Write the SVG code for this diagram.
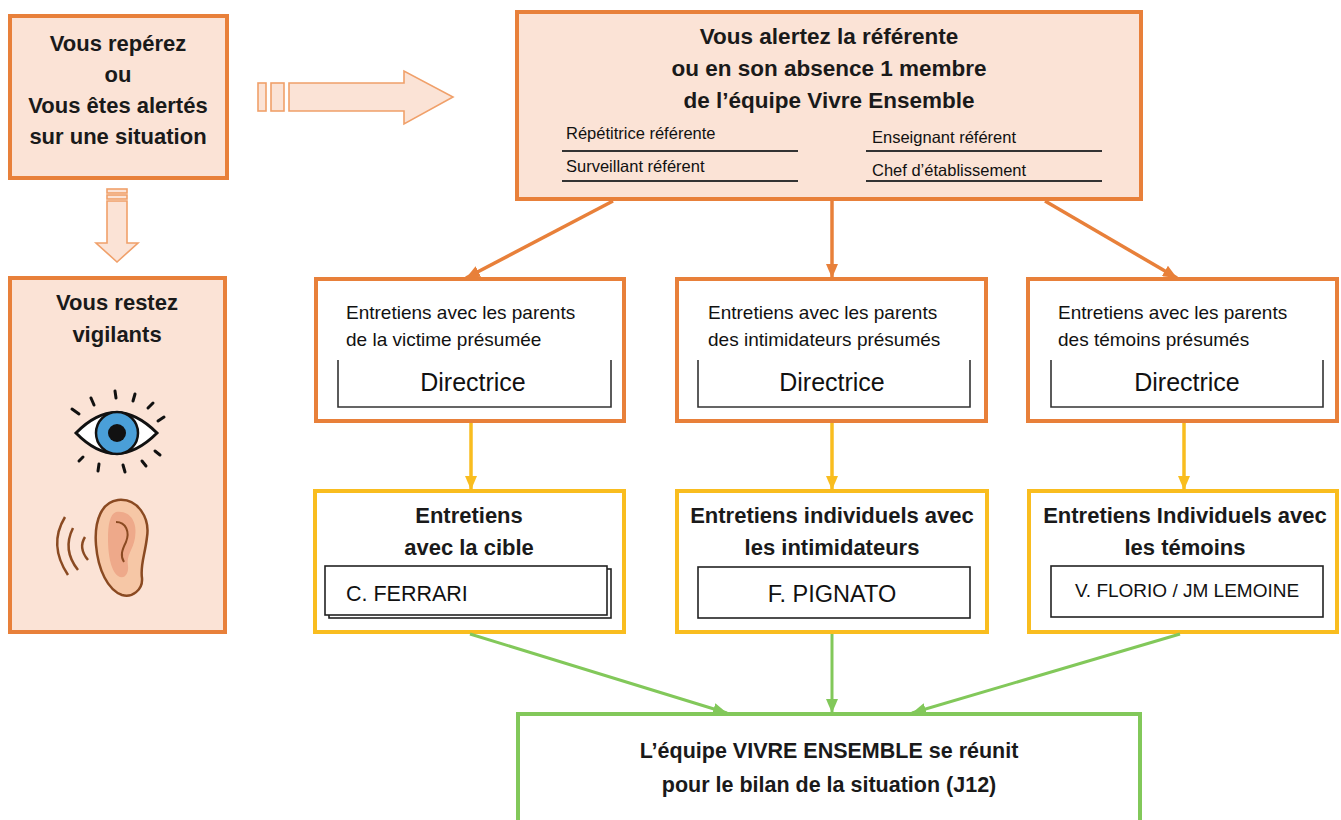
<svg xmlns="http://www.w3.org/2000/svg" width="1341" height="820" viewBox="0 0 1341 820">
<style>
.bg{fill:#ffffff}
.peach{fill:#FBE3D6;stroke:#E8803A;stroke-width:4}
.obox{fill:#ffffff;stroke:#E8803A;stroke-width:4}
.ybox{fill:#ffffff;stroke:#F9BD1F;stroke-width:4}
.gbox{fill:#ffffff;stroke:#82C85A;stroke-width:4}
.inner{fill:none;stroke:#333333;stroke-width:1.6}
.innerw{fill:#ffffff;stroke:#222222;stroke-width:1.6}
.bold{font-family:"Liberation Sans",Arial,sans-serif;font-weight:bold;fill:#1a1a1a;text-anchor:middle}
.reg{font-family:"Liberation Sans",Arial,sans-serif;fill:#111111}
.blk{fill:#FBE3D6;stroke:#F0A06A;stroke-width:1.6}
.uline{stroke:#333333;stroke-width:2}
.oc{stroke:#E8803A;stroke-width:3.5;fill:none}
.yc{stroke:#F9BD1F;stroke-width:3.5;fill:none}
.gc{stroke:#82C85A;stroke-width:3;fill:none}
</style>
<defs>
<marker id="ao" markerUnits="userSpaceOnUse" markerWidth="14" markerHeight="12" refX="14" refY="6" orient="auto"><path d="M0,0 L14,6 L0,12 z" fill="#E8803A"/></marker>
<marker id="ay" markerUnits="userSpaceOnUse" markerWidth="14" markerHeight="12" refX="14" refY="6" orient="auto"><path d="M0,0 L14,6 L0,12 z" fill="#F9BD1F"/></marker>
<marker id="ag" markerUnits="userSpaceOnUse" markerWidth="14" markerHeight="12" refX="14" refY="6" orient="auto"><path d="M0,0 L14,6 L0,12 z" fill="#82C85A"/></marker>
</defs>
<rect class="bg" x="0" y="0" width="1341" height="820"/>

<g id="node-repérez">
<rect class="peach" x="10" y="16" width="217" height="162"/>
<text class="bold" font-size="22" x="118" y="51">Vous repérez</text>
<text class="bold" font-size="22" x="118" y="82">ou</text>
<text class="bold" font-size="22" x="118" y="113">Vous êtes alertés</text>
<text class="bold" font-size="22" x="118" y="144">sur une situation</text>
</g>

<g id="arrow-right-block">
<rect class="blk" x="258" y="83" width="8" height="28"/>
<rect class="blk" x="271" y="83" width="13" height="28"/>
<polygon class="blk" points="289,83 404,83 404,71 453,97 404,124 404,111 289,111"/>
</g>

<g id="arrow-down-block">
<rect class="blk" x="107" y="189" width="20" height="4"/>
<rect class="blk" x="107" y="195" width="20" height="4"/>
<polygon class="blk" points="107,201 127,201 127,243 138,243 117,262 96,243 107,243"/>
</g>

<g id="node-vigilants">
<rect class="peach" x="10" y="278" width="215" height="354"/>
<text class="bold" font-size="22" x="117" y="310">Vous restez</text>
<text class="bold" font-size="22" x="117" y="342">vigilants</text>
<g id="eye">
<path d="M76,433 Q116,392 157,433 Q116,474 76,433 Z" fill="#ffffff" stroke="#111111" stroke-width="3"/>
<circle cx="117" cy="433" r="21" fill="#4A9FD8" stroke="#111111" stroke-width="2.5"/>
<circle cx="117" cy="433" r="9" fill="#111111"/>
<g stroke="#111111" stroke-width="3" stroke-linecap="round">
<line x1="72" y1="409" x2="79" y2="414"/>
<line x1="91" y1="398" x2="94" y2="405"/>
<line x1="115" y1="391" x2="116" y2="398"/>
<line x1="135" y1="394" x2="133" y2="401"/>
<line x1="153" y1="403" x2="148" y2="408"/>
<line x1="164" y1="417" x2="158" y2="421"/>
<line x1="79" y1="461" x2="83" y2="457"/>
<line x1="99" y1="464" x2="98" y2="471"/>
<line x1="123" y1="465" x2="125" y2="472"/>
<line x1="142" y1="461" x2="146" y2="466"/>
<line x1="155" y1="451" x2="160" y2="455"/>
</g>
</g>
<g id="ear">
<path d="M65,517 Q48,545 68,575" fill="none" stroke="#8A4A22" stroke-width="2.5"/>
<path d="M73,528 Q62,550 78,570" fill="none" stroke="#8A4A22" stroke-width="2.5"/>
<path d="M85,537 Q78,548 88,560" fill="none" stroke="#8A4A22" stroke-width="2.5"/>
<path d="M118,500 C138,498 150,518 147,537 C145,555 140,565 142,578 C143,590 132,598 122,595 C108,590 98,570 96,545 C94,520 102,502 118,500 Z" fill="#F6C7A6" stroke="#8A4A22" stroke-width="2.5"/>
<path d="M116,512 C130,510 138,522 135,538 C133,550 126,555 128,566 C129,574 124,580 118,576 C110,570 108,552 108,538 C108,525 110,514 116,512 Z" fill="#EEA98A" stroke="none"/>
<path d="M116,522 C126,522 130,532 126,542 C122,550 120,556 124,562" fill="none" stroke="#8A4A22" stroke-width="2"/>
</g>
</g>

<g id="node-alertez">
<rect class="peach" x="517" y="12" width="624" height="187"/>
<text class="bold" font-size="22.5" x="829" y="44">Vous alertez la référente</text>
<text class="bold" font-size="22.5" x="829" y="76">ou en son absence 1 membre</text>
<text class="bold" font-size="22.5" x="829" y="108">de l’équipe Vivre Ensemble</text>
<text class="reg" font-size="16.5" x="566" y="139">Répétitrice référente</text>
<line class="uline" x1="562" y1="151" x2="798" y2="151"/>
<text class="reg" font-size="16.5" x="566" y="172">Surveillant référent</text>
<line class="uline" x1="562" y1="181" x2="798" y2="181"/>
<text class="reg" font-size="16.5" x="872" y="143">Enseignant référent</text>
<line class="uline" x1="866" y1="151" x2="1102" y2="151"/>
<text class="reg" font-size="16.5" x="872" y="176">Chef d’établissement</text>
<line class="uline" x1="866" y1="181" x2="1102" y2="181"/>
</g>

<g id="node-parents-victime">
<rect class="obox" x="316" y="279" width="308" height="142"/>
<text class="reg" font-size="19" x="346" y="319">Entretiens avec les parents</text>
<text class="reg" font-size="19" x="346" y="346">de la victime présumée</text>
<path class="inner" d="M338,360 V407 H611 V360"/>
<text class="reg" font-size="25" x="473" y="391" text-anchor="middle">Directrice</text>
</g>

<g id="node-parents-intimidateurs">
<rect class="obox" x="677" y="279" width="309" height="142"/>
<text class="reg" font-size="19" x="708" y="319">Entretiens avec les parents</text>
<text class="reg" font-size="19" x="708" y="346">des intimidateurs présumés</text>
<path class="inner" d="M698,360 V407 H970 V360"/>
<text class="reg" font-size="25" x="832" y="391" text-anchor="middle">Directrice</text>
</g>

<g id="node-parents-temoins">
<rect class="obox" x="1028" y="279" width="309" height="142"/>
<text class="reg" font-size="19" x="1058" y="319">Entretiens avec les parents</text>
<text class="reg" font-size="19" x="1058" y="346">des témoins présumés</text>
<path class="inner" d="M1051,360 V407 H1323 V360"/>
<text class="reg" font-size="25" x="1187" y="391" text-anchor="middle">Directrice</text>
</g>

<g id="node-cible">
<rect class="ybox" x="315" y="491" width="309" height="141"/>
<text class="bold" font-size="22" x="469" y="523">Entretiens</text>
<text class="bold" font-size="22" x="469" y="555">avec la cible</text>
<rect class="innerw" x="329" y="569" width="282" height="49"/>
<rect class="innerw" x="325" y="566" width="282" height="49"/>
<text class="reg" font-size="21.5" x="346" y="601">C. FERRARI</text>
</g>

<g id="node-intimidateurs">
<rect class="ybox" x="677" y="491" width="310" height="141"/>
<text class="bold" font-size="22" x="832" y="523">Entretiens individuels avec</text>
<text class="bold" font-size="22" x="832" y="555">les intimidateurs</text>
<rect class="innerw" x="698" y="567" width="272" height="51"/>
<text class="reg" font-size="23.5" x="832" y="602" text-anchor="middle">F. PIGNATO</text>
</g>

<g id="node-temoins">
<rect class="ybox" x="1029" y="491" width="308" height="141"/>
<text class="bold" font-size="22" x="1185" y="523">Entretiens Individuels avec</text>
<text class="bold" font-size="22" x="1185" y="555">les témoins</text>
<rect class="innerw" x="1051" y="566" width="272" height="51"/>
<text class="reg" font-size="19" x="1187" y="597" text-anchor="middle">V. FLORIO / JM LEMOINE</text>
</g>

<g id="node-bilan">
<rect class="gbox" x="518" y="714" width="622" height="130"/>
<text class="bold" font-size="21.5" x="829" y="758">L’équipe VIVRE ENSEMBLE se réunit</text>
<text class="bold" font-size="21.5" x="829" y="792">pour le bilan de la situation (J12)</text>
</g>

<g id="connectors">
<line class="oc" x1="613" y1="201" x2="466" y2="278" marker-end="url(#ao)"/>
<line class="oc" x1="832" y1="201" x2="832" y2="278" marker-end="url(#ao)"/>
<line class="oc" x1="1045" y1="201" x2="1177" y2="278" marker-end="url(#ao)"/>
<line class="yc" x1="471" y1="423" x2="471" y2="490" marker-end="url(#ay)"/>
<line class="yc" x1="832" y1="423" x2="832" y2="490" marker-end="url(#ay)"/>
<line class="yc" x1="1184" y1="423" x2="1184" y2="490" marker-end="url(#ay)"/>
<line class="gc" x1="470" y1="634" x2="727" y2="713" marker-end="url(#ag)"/>
<line class="gc" x1="832" y1="634" x2="832" y2="713" marker-end="url(#ag)"/>
<line class="gc" x1="1180" y1="634" x2="912" y2="713" marker-end="url(#ag)"/>
</g>
</svg>
